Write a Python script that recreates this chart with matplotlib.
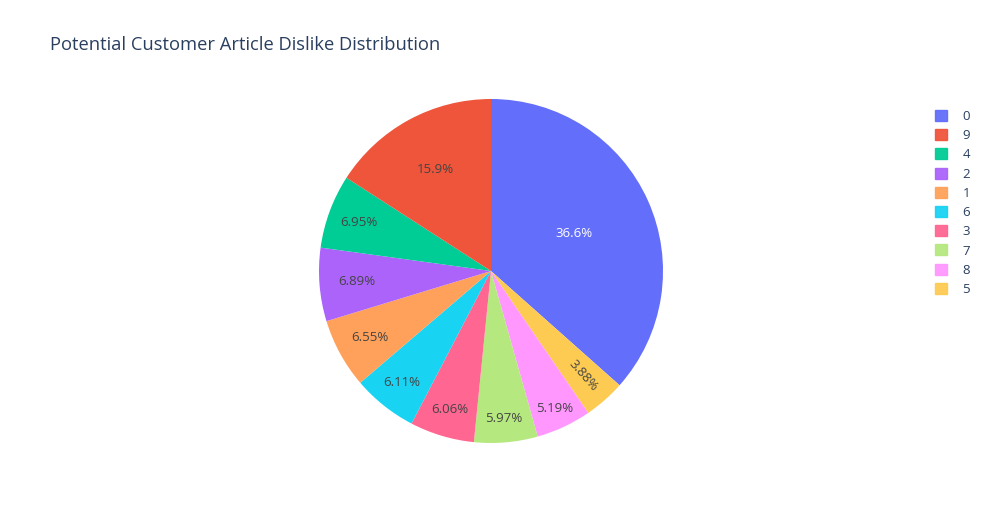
import numpy as np
from matplotlib import pyplot as plt
from matplotlib.patches import Patch

plt.rcParams['font.family'] = ['Open Sans', 'DejaVu Sans']

# legend order (descending share)
labels = ['0', '9', '4', '2', '1', '6', '3', '7', '8', '5']
shares = [36.6, 15.9, 6.95, 6.89, 6.55, 6.11, 6.06, 5.97, 5.19, 3.88]
colors = ['#636EFA', '#EF553B', '#00CC96', '#AB63FA', '#FFA15A',
          '#19D3F3', '#FF6692', '#B6E880', '#FF97FF', '#FECB52']
pct_text = ['36.6%', '15.9%', '6.95%', '6.89%', '6.55%',
            '6.11%', '6.06%', '5.97%', '5.19%', '3.88%']

# plotly draws first slice clockwise from 12 o'clock, the rest continue clockwise
# from its end, i.e. drawing order clockwise: 0, then the rest reversed
order = [0] + list(range(len(labels) - 1, 0, -1))
# radial position of each label (fraction of radius), per legend index
label_r = [0.53, 0.67, 0.82, 0.78, 0.80, 0.83, 0.84, 0.86, 0.88, 0.81]

W, H = 984, 525
fig = plt.figure(figsize=(W / 100, H / 100), dpi=100)
cx, cy, R = 491, H - 271, 172
ax = fig.add_axes([(cx - R) / W, (cy - R) / H, 2 * R / W, 2 * R / H])

vals = [shares[i] for i in order]
cols = [colors[i] for i in order]
wedges, _ = ax.pie(vals, colors=cols, startangle=90, counterclock=False,
                   radius=1, wedgeprops=dict(linewidth=0))
ax.set_xlim(-1, 1)
ax.set_ylim(-1, 1)
ax.set_aspect('equal')

for w, i in zip(wedges, order):
    mid = np.deg2rad((w.theta1 + w.theta2) / 2)
    r = label_r[i]
    tc = 'white' if i == 0 else '#444444'
    rot = 0
    if shares[i] < 4.5:
        rot = np.rad2deg(mid)
    ax.text(r * np.cos(mid), r * np.sin(mid), pct_text[i], color=tc,
            fontsize=9.5, ha='center', va='center', rotation=rot,
            rotation_mode='anchor')

fig.text(50 / W, 1 - 45 / H, 'Potential Customer Article Dislike Distribution',
         fontsize=13.2, color='#2a3f5f', ha='left', va='center')

handles = [Patch(facecolor=c, edgecolor=c, alpha=0.95) for c in colors]
fig.legend(handles, labels, loc='upper left',
           bbox_to_anchor=(923 / W, 1 - 98 / H), frameon=False,
           fontsize=9.5, handlelength=0.9, handleheight=0.9,
           handletextpad=1.2, labelspacing=0.47, labelcolor='#2a3f5f')

fig.savefig('out.png', dpi=100)
plt.close()
